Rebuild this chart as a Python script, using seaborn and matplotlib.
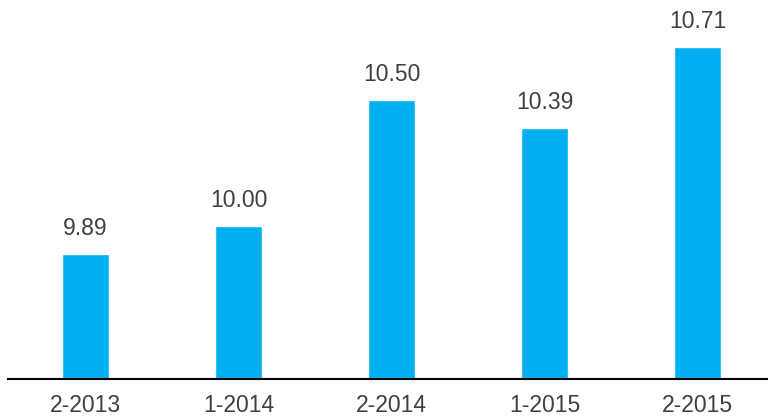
import matplotlib
matplotlib.use('Agg')
import matplotlib.pyplot as plt
import seaborn as sns
import pandas as pd

# Данные
periods = ['2-2013', '1-2014', '2-2014', '1-2015', '2-2015']
values = [9.89, 10.00, 10.50, 10.39, 10.71]

df = pd.DataFrame({'period': periods, 'value': values})

sns.set_style('white')
plt.rcParams['font.family'] = ['Liberation Sans', 'DejaVu Sans']

fig = plt.figure(figsize=(7.68, 4.16), dpi=100)
ax = fig.add_axes([8 / 768, 37 / 416, 760 / 768, 379 / 416])

sns.barplot(data=df, x='period', y='value', ax=ax, color='#00B0F0',
            width=0.31, saturation=1)

ax.bar_label(ax.containers[0], fmt='%.2f', padding=10, fontsize=16.5, color='#404040')

ax.set_ylim(9.395, 10.896)
ax.set_xlim(-0.507, 4.46)
ax.set_xlabel('')
ax.set_ylabel('')
ax.set_yticks([])
ax.tick_params(axis='x', length=0, pad=11, labelsize=16.5, labelcolor='#404040')

for side in ['top', 'right', 'left']:
    ax.spines[side].set_visible(False)
ax.spines['bottom'].set_color('black')
ax.spines['bottom'].set_linewidth(1.5)

fig.savefig('out.png', dpi=100)
